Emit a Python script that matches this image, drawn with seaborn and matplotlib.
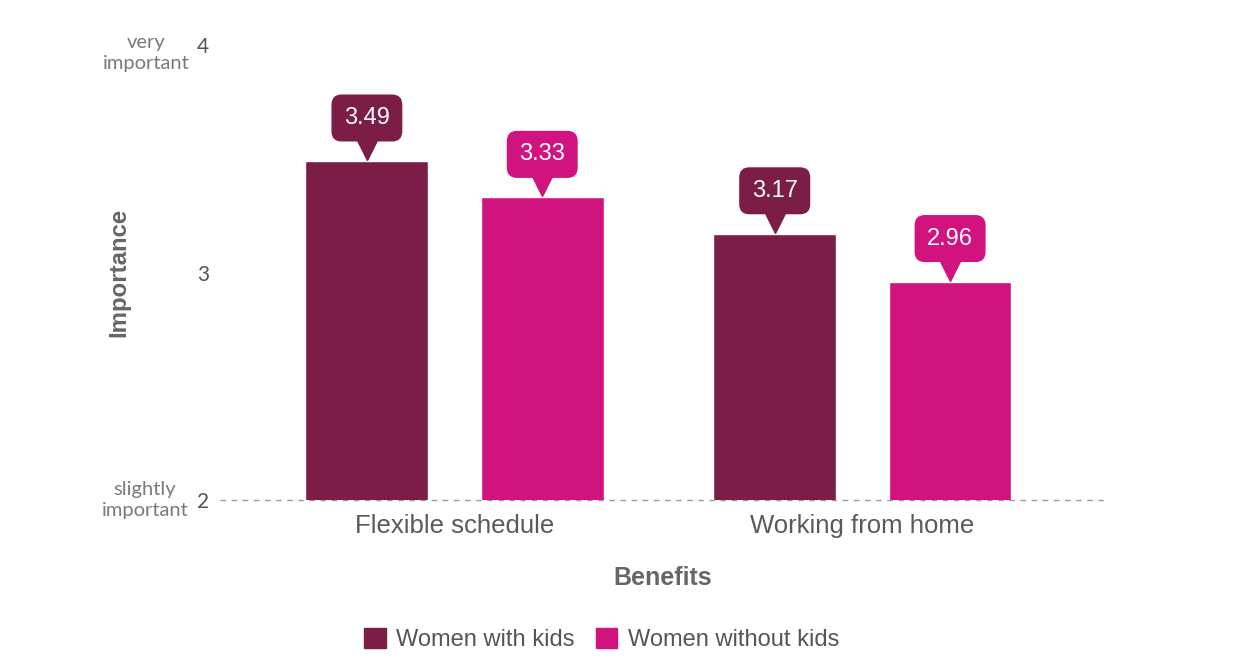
import pandas as pd
import matplotlib.pyplot as plt
import seaborn as sns
from matplotlib.transforms import offset_copy, blended_transform_factory

# Data: mean importance score (2 = slightly, 4 = very important)
benefits = ['Flexible schedule', 'Working from home']
groups = ['Women with kids', 'Women without kids']
with_kids = [3.49, 3.17]
without_kids = [3.33, 2.96]
y_ticks = [2, 3, 4]

colors = ['#7b1d46', '#d0137e']

df = pd.DataFrame({
    'Benefits': benefits * 2,
    'Group': [groups[0]] * len(benefits) + [groups[1]] * len(benefits),
    'Importance': with_kids + without_kids,
})

sns.set_style('white')
plt.rcParams['font.family'] = ['Liberation Sans', 'DejaVu Sans']

fig = plt.figure(figsize=(12.46, 6.70), dpi=100)
ax = fig.add_axes([0.1766, 0.2537, 0.7103, 0.6791])

sns.barplot(data=df, x='Benefits', y='Importance', hue='Group', hue_order=groups,
            palette=colors, width=0.86, gap=0.3, saturation=1, ax=ax, legend=True)

ax.set_ylim(2, 4)
ax.set_xlim(-0.575, 1.595)
sns.despine(ax=ax, left=True, bottom=True)
ax.tick_params(length=0)

# dashed baseline at 2
ax.axhline(2, color='#9a9a9a', lw=1, ls=(0, (4, 4)), zorder=0, clip_on=False)

ax.set_yticks(y_ticks)
ax.set_yticklabels([str(t) for t in y_ticks], fontsize=15, color='#555555', family='Lato')
ax.tick_params(axis='y', pad=8)
ax.tick_params(axis='x', pad=10)
ax.set_xticks(range(len(benefits)))
ax.set_xticklabels(benefits, fontsize=18.5, color='#5a5a5a')

# verbal anchors next to the numeric ticks
trans = blended_transform_factory(ax.transAxes, ax.transData)
ax.text(-0.083, 3.965, 'very\nimportant', transform=trans, ha='center', va='center',
        fontsize=14.5, color='#7a7a7a', family='Lato', linespacing=1.3)
ax.text(-0.085, 2.0, 'slightly\nimportant', transform=trans, ha='center', va='center',
        fontsize=14.5, color='#7a7a7a', family='Lato', linespacing=1.3)

ax.set_ylabel('Importance', fontsize=17.3, fontweight='bold', color='#666666', labelpad=48)
ax.set_xlabel('Benefits', fontsize=18, fontweight='bold', color='#666666', labelpad=20)

# callout labels above each bar
tri_trans = offset_copy(ax.transData, fig=fig, x=0, y=8, units='points')
for container, color in zip(ax.containers, colors):
    for bar in container:
        x = bar.get_x() + bar.get_width() / 2
        h = bar.get_height()
        ax.plot(x, h, marker='v', ms=15, color=color, mec=color, transform=tri_trans,
                clip_on=False, zorder=4)
        ax.annotate(f'{h:.2f}', (x, h), xytext=(0, 31), textcoords='offset points',
                    ha='center', va='center', fontsize=17, color='white', zorder=5,
                    bbox=dict(boxstyle='round,pad=0.5,rounding_size=0.4', fc=color, ec=color),
                    annotation_clip=False)

ax.legend_.remove()
handles = [plt.Rectangle((0, 0), 1, 1, color=c) for c in colors]
fig.legend(handles, groups, loc='center', bbox_to_anchor=(0.483, 0.045), ncol=2,
           frameon=False, fontsize=17, handlelength=0.9, handleheight=0.9,
           handletextpad=0.45, columnspacing=0.9, labelcolor='#555555')

fig.savefig('out.png', dpi=100, facecolor='white')
